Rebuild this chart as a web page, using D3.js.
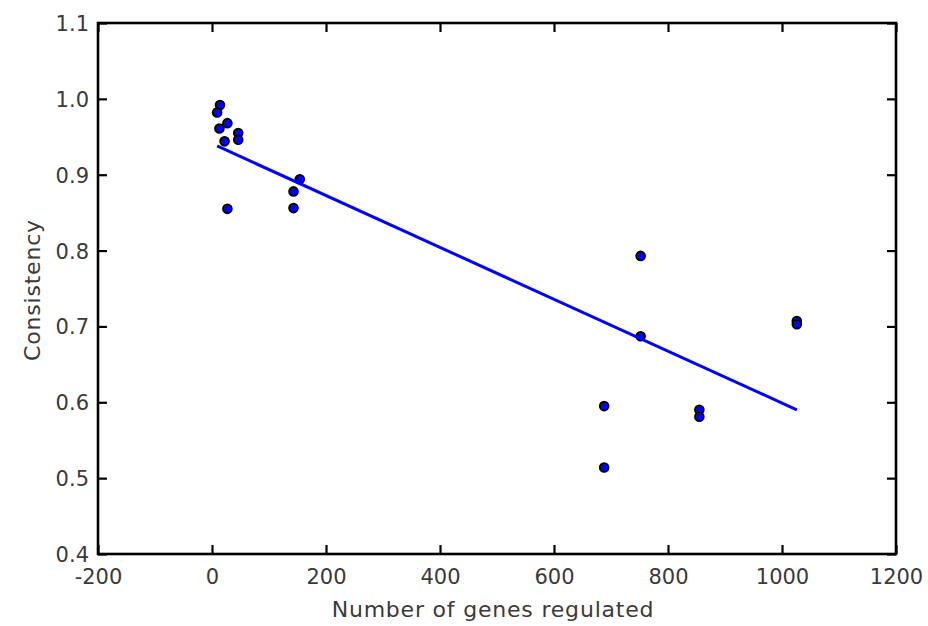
<!DOCTYPE html>
<html>
<head>
<meta charset="utf-8">
<script src="https://cdn.jsdelivr.net/npm/d3@7"></script>
<style>
  html, body { margin: 0; padding: 0; background: #fff; }
  svg { display: block; font-family: "DejaVu Sans", sans-serif; }
</style>
</head>
<body>
<svg id="chart" width="928" height="626"></svg>
<script>
// Number of genes regulated by each regulator vs. its consistency score
const genesRegulated = [14, 9, 27, 13, 46, 46, 22, 154, 143, 143, 27, 752, 752, 1026, 1026, 688, 688, 855, 855];
const consistency    = [0.992, 0.982, 0.968, 0.961, 0.955, 0.946, 0.944, 0.894, 0.878, 0.856, 0.855,
                        0.793, 0.687, 0.707, 0.703, 0.595, 0.514, 0.590, 0.581];

// Least-squares fit line: consistency = intercept + slope * genes
const fitSlope = -0.000342;
const fitIntercept = 0.941;

const xTicks = [-200, 0, 200, 400, 600, 800, 1000, 1200];
const yTicks = [0.4, 0.5, 0.6, 0.7, 0.8, 0.9, 1.0, 1.1];
const xTitle = "Number of genes regulated";
const yTitle = "Consistency";

const svg = d3.select("#chart");
const plotLeft = 98, plotRight = 896, plotTop = 23, plotBottom = 554;

const x = d3.scaleLinear().domain([-200, 1200]).range([plotLeft, plotRight]);
const y = d3.scaleLinear().domain([0.4, 1.1]).range([plotBottom, plotTop]);

const tickLen = 9;
const tickFont = 21;
const textColor = "#3a3a3a";

// inward ticks on all four sides
function styleAxis(g) {
  g.select(".domain").remove();
  g.selectAll(".tick line").attr("stroke", "#000").attr("stroke-width", 2.2);
  g.selectAll(".tick text")
    .attr("fill", textColor)
    .attr("font-size", tickFont)
    .attr("font-family", "DejaVu Sans, sans-serif");
}

svg.append("g")
  .attr("transform", `translate(0,${plotBottom})`)
  .call(d3.axisBottom(x).tickValues(xTicks).tickFormat(d3.format("d"))
        .tickSizeInner(-tickLen).tickSizeOuter(0).tickPadding(15))
  .call(styleAxis)
  .call(g => g.selectAll(".tick text").text(d => d < 0 ? "-" + Math.abs(d) : String(d)));

svg.append("g")
  .attr("transform", `translate(0,${plotTop})`)
  .call(d3.axisTop(x).tickValues(xTicks).tickFormat("")
        .tickSizeInner(-tickLen).tickSizeOuter(0))
  .call(styleAxis);

svg.append("g")
  .attr("transform", `translate(${plotLeft},0)`)
  .call(d3.axisLeft(y).tickValues(yTicks).tickFormat(d3.format(".1f"))
        .tickSizeInner(-tickLen).tickSizeOuter(0).tickPadding(10))
  .call(styleAxis)
  .call(g => g.selectAll(".tick text").attr("x", -9).attr("dy", "0.36em"));

svg.append("g")
  .attr("transform", `translate(${plotRight},0)`)
  .call(d3.axisRight(y).tickValues(yTicks).tickFormat("")
        .tickSizeInner(-tickLen).tickSizeOuter(0))
  .call(styleAxis);

// plot frame
svg.append("rect")
  .attr("x", plotLeft).attr("y", plotTop)
  .attr("width", plotRight - plotLeft).attr("height", plotBottom - plotTop)
  .attr("fill", "none")
  .attr("stroke", "#000")
  .attr("stroke-width", 2.6);

// scatter points
svg.append("g")
  .selectAll("circle")
  .data(genesRegulated.map((g, i) => ({ g, c: consistency[i] })))
  .join("circle")
  .attr("cx", d => x(d.g))
  .attr("cy", d => y(d.c))
  .attr("r", 4.4)
  .attr("fill", "#0000ff")
  .attr("stroke", "#000")
  .attr("stroke-width", 1.8);

// fitted trend line across the observed range
const [gMin, gMax] = d3.extent(genesRegulated);
const fitLine = [gMin, gMax].map(g => ({ g, c: fitIntercept + fitSlope * g }));
svg.append("path")
  .datum(fitLine)
  .attr("d", d3.line().x(d => x(d.g)).y(d => y(d.c)))
  .attr("fill", "none")
  .attr("stroke", "#0000ff")
  .attr("stroke-width", 3);

// axis titles
svg.append("text")
  .attr("x", (plotLeft + plotRight) / 2 - 4)
  .attr("y", 617)
  .attr("text-anchor", "middle")
  .attr("fill", textColor)
  .attr("font-size", 22)
  .attr("letter-spacing", 0.8)
  .text(xTitle);

svg.append("text")
  .attr("transform", `translate(40,290) rotate(-90)`)
  .attr("text-anchor", "middle")
  .attr("fill", textColor)
  .attr("font-size", 22)
  .attr("letter-spacing", 0.8)
  .text(yTitle);
</script>
</body>
</html>
